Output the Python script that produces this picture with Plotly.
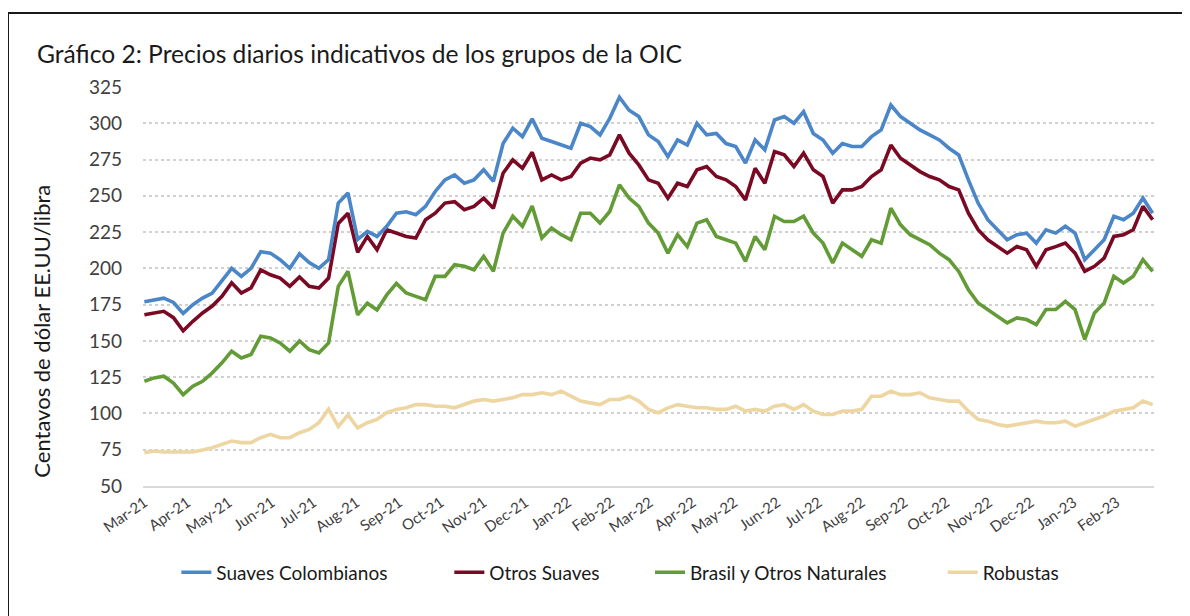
import pandas as pd
import plotly.graph_objects as go

# weekly readings (cents/lb), first Monday of Mar-21 to end of Feb-23
dates = pd.date_range("2021-03-01", periods=105, freq="7D")

suaves_colombianos = [
    177, 178, 179.5, 176.5, 169, 175, 179.5, 183, 192, 200,
    194.5, 200, 211.5, 210.5, 206, 200, 210, 204, 200, 206,
    245, 252, 220, 225.5, 222, 229, 238, 239, 237, 242.7,
    253, 261, 264.4, 258.7, 261, 268, 260, 286, 296.6, 290.8,
    303, 289.7, 287.4, 285, 282.8, 300, 297.7, 292, 303.4, 318,
    309, 304.6, 292, 287.4, 277, 288.5, 285, 300, 292, 293,
    286, 284, 272.5, 288.5, 281.7, 302.3, 304.6, 300, 308, 293,
    288.5, 279.4, 286, 284, 284, 290.8, 295.4, 312.6, 304.6, 300,
    295.4, 292, 288.5, 282.8, 278.2, 261, 245, 233.5, 226.6, 219.7,
    223.2, 224.3, 217.4, 226.6, 224.3, 229, 224.3, 206, 212.8, 219.7,
    235.9, 233.5, 238, 248.4, 238,
]
otros_suaves = [
    168, 169.3, 170.4, 166, 157, 163.5, 169.3, 174, 180.7, 190,
    183, 186.5, 199, 195.6, 193.3, 187.6, 194, 187.6, 186.5, 193.3,
    231, 238, 211, 222, 212.8, 226.6, 224.3, 222, 220.9, 233.5,
    238, 245, 246, 240.4, 242.7, 248.4, 241.5, 265.6, 274.8, 269,
    280, 261, 264.4, 261, 263.3, 272.5, 276, 274.8, 278.2, 292,
    279.4, 271.3, 261, 258.7, 248.4, 258.7, 256.4, 267.9, 270.2, 263.3,
    261, 256.4, 247.2, 269, 258.7, 280.5, 278.2, 270.2, 279.4, 267.9,
    263.3, 245, 254.1, 254.1, 256.4, 263.3, 267.9, 285, 275.9, 271.3,
    266.7, 263.3, 261, 256.4, 254.1, 238, 226.6, 219.7, 215, 210.5,
    215, 212.8, 201.4, 212.8, 215, 217.4, 210.5, 198, 201.4, 207.1,
    222, 223.2, 226.6, 242.7, 233.5,
]
brasil_otros_naturales = [
    122.2, 124.5, 125.7, 121, 113, 118.8, 122.2, 128, 134.9, 142.9,
    138.3, 140.6, 153.2, 152, 148.6, 142.9, 150, 144, 141.7, 148.6,
    187.6, 198, 168, 176, 171.4, 181.7, 189.6, 183, 180.7, 178.4,
    194.5, 194.5, 202.5, 201.4, 199, 208.3, 198, 224.3, 235.9, 229,
    243, 220.9, 227.8, 223.2, 219.7, 238, 238, 231.2, 239.2, 257.6,
    248.4, 242.7, 231.2, 224.3, 210.5, 223.2, 215, 231.2, 233.5, 222,
    219.7, 217.4, 204.8, 222, 212.8, 235.9, 232.3, 232.3, 235.9, 224.3,
    217.4, 203.7, 217.4, 212.8, 208.3, 219.7, 217.4, 241.5, 230, 223.2,
    219.7, 216.3, 210.5, 206, 197.9, 185.3, 176.1, 171.6, 167, 162.4,
    165.8, 164.7, 161.2, 171.6, 171.6, 177.3, 171.6, 151, 169.3, 176.1,
    194.5, 189.9, 194.5, 206, 197.9,
]
robustas = [
    73, 74.1, 73.4, 73.4, 73, 73.4, 74.8, 76.4, 78.7, 81,
    79.9, 79.9, 83.3, 85.6, 83.3, 83.3, 86.7, 89, 93.6, 103,
    91, 99, 90, 93.6, 95.9, 100.5, 102.8, 103.9, 106.1, 106.1,
    105, 105, 103.9, 106.1, 108.5, 109.6, 108.5, 109.6, 110.8, 113,
    113, 114.2, 113, 115.4, 111.9, 108.5, 107.3, 106.1, 109.6, 109.6,
    111.9, 108.5, 102.8, 100.5, 103.9, 106.1, 105, 103.9, 103.9, 102.8,
    102.8, 105, 101.6, 102.8, 101.6, 105, 106.1, 102.8, 106.1, 101.6,
    99.3, 99.3, 101.6, 101.6, 102.8, 111.9, 111.9, 115.4, 113, 113,
    114.2, 110.8, 109.6, 108.5, 108.5, 101.6, 95.9, 94.7, 92.4, 91.3,
    92.4, 93.6, 94.7, 93.6, 93.6, 94.7, 91.3, 93.6, 95.9, 98.2,
    101.6, 102.8, 103.9, 108.5, 106.1,
]

series = [
    ("Suaves Colombianos", suaves_colombianos, "#4A86C8", "legend", 0.033),
    ("Otros Suaves", otros_suaves, "#7A0A24", "legend2", 0.303),
    ("Brasil y Otros Naturales", brasil_otros_naturales, "#639B37", "legend3", 0.5015),
    ("Robustas", robustas, "#EDD6A2", "legend4", 0.791),
]
month_ticks = pd.date_range("2021-03-01", "2023-02-01", freq="MS")

FONT = "Lato"
# the page body adds an 8px margin, so the figure is 8px smaller each way
W, H, OFF = 1182, 608, 8
PL, PR, PT, PB = 143 - OFF, 1154 - OFF, 87 - OFF, 486.5 - OFF


def px(x):
    return (x - 143) / 1011


def py(y):
    return (486.5 - y) / 399.5


fig = go.Figure()

# robustas first so the darker series sit on top
for name, values, color, leg, _ in reversed(series):
    fig.add_trace(
        go.Scatter(
            x=dates,
            y=values,
            name=name,
            mode="lines",
            line=dict(color=color, width=3.6),
            legend=leg,
        )
    )

legend_style = dict(
    orientation="h",
    y=py(573),
    yanchor="middle",
    xanchor="left",
    font=dict(family=FONT, size=19, color="#1a1a1a"),
    bgcolor="rgba(0,0,0,0)",
)
layout_legends = {leg: dict(legend_style, x=lx) for _, _, _, leg, lx in series}

fig.update_layout(
    width=W,
    height=H,
    paper_bgcolor="white",
    plot_bgcolor="white",
    margin=dict(l=PL, r=W - PR, t=PT, b=H - PB),
    font=dict(family=FONT, color="#404040"),
    showlegend=True,
    **layout_legends,
    xaxis=dict(
        type="date",
        range=["2021-02-28", "2023-02-28"],
        tickvals=month_ticks,
        tickformat="%b-%y",
        tickangle=-35,
        tickfont=dict(size=15, color="#404040"),
        showgrid=False,
        showline=True,
        linecolor="#d9d9d9",
        linewidth=2,
        ticks="",
        zeroline=False,
    ),
    yaxis=dict(
        range=[50, 325],
        tickvals=list(range(50, 326, 25)),
        tickfont=dict(size=19, color="#404040"),
        ticklabelstandoff=20,
        showgrid=True,
        gridcolor="#d0d0d0",
        gridwidth=2,
        griddash="dot",
        zeroline=False,
        showline=False,
        ticks="",
    ),
)

fig.add_annotation(
    text="Gráfico 2: Precios diarios indicativos de los grupos de la OIC",
    xref="paper", yref="paper",
    x=px(35), y=py(53),
    xanchor="left", yanchor="middle",
    showarrow=False,
    font=dict(family=FONT, size=24.6, color="#1a1a1a"),
)
fig.add_annotation(
    text="Centavos de dólar EE.UU/libra",
    xref="paper", yref="paper",
    x=px(42), y=py(332),
    xanchor="center", yanchor="middle",
    textangle=-90,
    showarrow=False,
    font=dict(family=FONT, size=22, color="#1a1a1a"),
)

# outer frame of the figure
fig.add_shape(
    type="rect",
    xref="paper", yref="paper",
    x0=px(8), x1=px(1183),
    y0=py(640), y1=py(13),
    line=dict(color="#1a1a1a", width=2),
    fillcolor="rgba(0,0,0,0)",
    layer="below",
)

fig.write_html("out.html")
